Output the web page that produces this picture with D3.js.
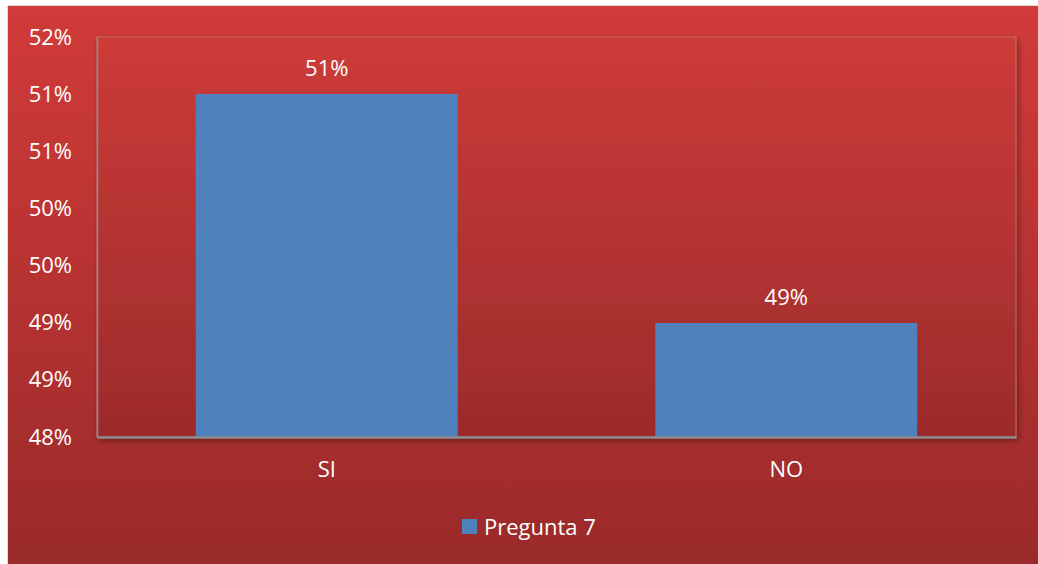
<!DOCTYPE html>
<html><head><meta charset="utf-8">
<script src="https://cdn.jsdelivr.net/npm/d3@7"></script>
<style>body{margin:0;background:#fff;}svg{display:block;font-family:"Open Sans",sans-serif;}</style>
</head><body>
<script>
const categories = ["SI", "NO"];
const values = [0.5143, 0.4914];
const valueLabels = ["51%", "49%"];
const tickValues = [0.48, 0.48571, 0.49143, 0.49714, 0.50286, 0.50857, 0.51429, 0.52];
const tickLabels = ["48%", "49%", "49%", "50%", "50%", "51%", "51%", "52%"];
const seriesName = "Pregunta 7";

const W = 1038, H = 564;
const FONT = "'Open Sans',sans-serif", FS = 22;
const svg = d3.select("body").append("svg").attr("width", W).attr("height", H);
const defs = svg.append("defs");
const g1 = defs.append("linearGradient").attr("id","bg").attr("x1",0).attr("y1",0).attr("x2",0).attr("y2",1);
g1.append("stop").attr("offset","0%").attr("stop-color","#d13b39");
g1.append("stop").attr("offset","100%").attr("stop-color","#9a2a2a");
const g2 = defs.append("linearGradient").attr("id","pa").attr("x1",0).attr("y1",0).attr("x2",0).attr("y2",1);
g2.append("stop").attr("offset","0%").attr("stop-color","#cd3b39");
g2.append("stop").attr("offset","100%").attr("stop-color","#9c2b2b");
const sh = defs.append("filter").attr("id","sh").attr("x","-5%").attr("y","-5%").attr("width","110%").attr("height","115%");
sh.append("feDropShadow").attr("dx",2).attr("dy",3).attr("stdDeviation",3).attr("flood-color","#000").attr("flood-opacity",0.35);

svg.append("rect").attr("x",8).attr("y",6).attr("width",W-8).attr("height",H-6).attr("fill","url(#bg)");
svg.append("line").attr("x1",8).attr("x2",W).attr("y1",5.5).attr("y2",5.5).attr("stroke","#d9d9d9");
svg.append("line").attr("x1",7.5).attr("x2",7.5).attr("y1",6).attr("y2",H).attr("stroke","#d9d9d9");

const m = {l:97, r:1016, t:37, b:437};
const x = d3.scaleBand().domain(categories).range([m.l, m.r]).paddingInner(0.43).paddingOuter(0.215);
const y = d3.scaleLinear().domain([0.48, 0.52]).range([m.b, m.t]);

svg.append("rect").attr("x",m.l).attr("y",m.t).attr("width",m.r-m.l).attr("height",m.b-m.t)
  .attr("fill","url(#pa)").attr("stroke","#c86a68").attr("stroke-width",1).attr("filter","url(#sh)");

svg.selectAll(".bar").data(values).enter().append("rect")
  .attr("x",(d,i)=>x(categories[i])).attr("width",x.bandwidth())
  .attr("y",d=>y(d)).attr("height",d=>y(0.48)-y(d)).attr("fill","#4f81bd");

svg.selectAll(".vl").data(values).enter().append("text")
  .attr("x",(d,i)=>x(categories[i])+x.bandwidth()/2).attr("y",d=>y(d)-18)
  .attr("text-anchor","middle").attr("fill","#fff").attr("font-size",FS).text((d,i)=>valueLabels[i]);

const yAxis = d3.axisLeft(y).tickValues(tickValues).tickSize(0).tickPadding(25).tickFormat((d,i)=>tickLabels[i]);
const ya = svg.append("g").attr("transform",`translate(${m.l},0)`).call(yAxis);
ya.select(".domain").attr("stroke","#8c8c8c").attr("stroke-width",1.5);
ya.selectAll("text").attr("fill","#fff").attr("font-size",FS).attr("font-family",FONT);

const xAxis = d3.axisBottom(x).tickSize(0).tickPadding(24);
const xa = svg.append("g").attr("transform",`translate(0,${m.b})`).call(xAxis);
xa.select(".domain").attr("stroke","#8c8c8c").attr("stroke-width",2.5);
xa.selectAll("text").attr("fill","#fff").attr("font-size",FS).attr("font-family",FONT);

const lg = svg.append("g").attr("transform","translate(462,519)");
lg.append("rect").attr("width",15).attr("height",15).attr("fill","#4f81bd");
lg.append("text").attr("x",22).attr("y",16).attr("fill","#fff").attr("font-size",FS).text(seriesName);
</script>
</body></html>
